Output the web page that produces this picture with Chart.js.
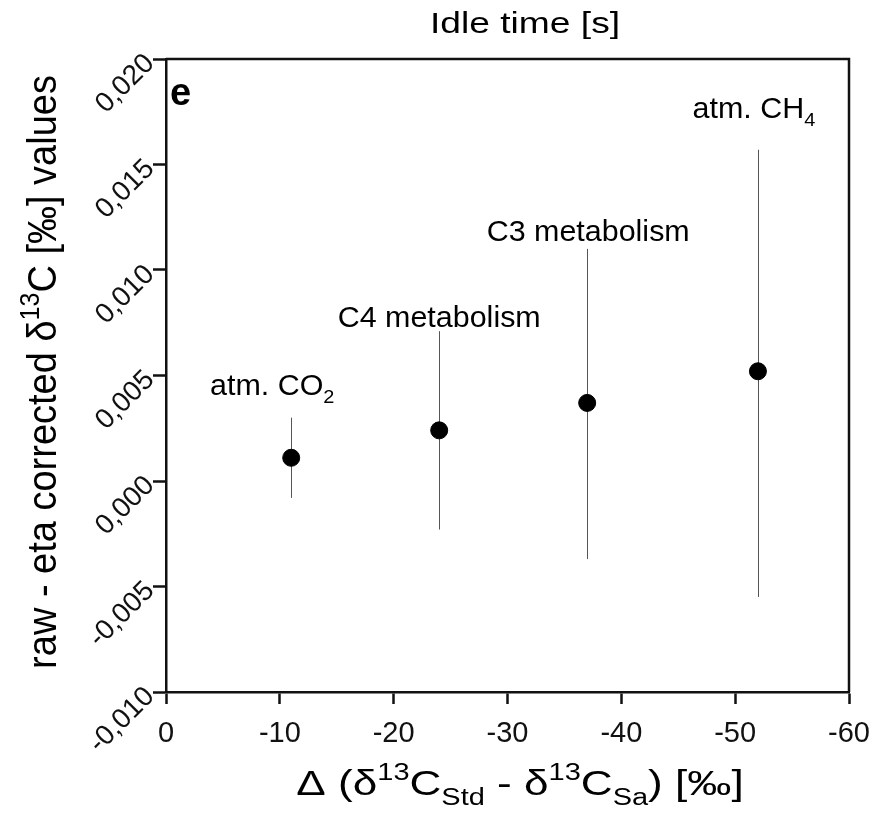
<!DOCTYPE html>
<html>
<head>
<meta charset="utf-8">
<script src="https://cdn.jsdelivr.net/npm/chart.js@4/dist/chart.umd.min.js"></script>
<style>
html,body{margin:0;padding:0;background:#fff;}
#wrap{width:873px;height:829px;position:relative;}
</style>
</head>
<body>
<div id="wrap"><canvas id="c" width="873" height="829"></canvas></div>
<script>
// ---- data ----
const categories = ['atm. CO2', 'C4 metabolism', 'C3 metabolism', 'atm. CH4'];
const labelMain = ['atm. CO', 'C4 metabolism', 'C3 metabolism', 'atm. CH'];
const labelSub = ['2', '', '', '4'];
const xValues = [-11, -24, -37, -52];
const yValues = [0.0011, 0.0024, 0.0037, 0.0052];
const yUpper = [0.0030, 0.0071, 0.0110, 0.0157];
const yLower = [-0.0008, -0.0023, -0.0037, -0.0055];
const xTicks = [0, -10, -20, -30, -40, -50, -60];
const yTicks = [-0.010, -0.005, 0.000, 0.005, 0.010, 0.015, 0.020];

const FONT = '"Liberation Sans", Arial, sans-serif';
const labelOffsets = [[-19, -23], [0, -4], [1, -8], [-4, -32]];

function drawRich(ctx, parts, x, y, align, sx) {
  sx = sx || 1;
  let total = 0;
  parts.forEach(p => { ctx.font = (p.bold ? 'bold ' : '') + p.size + 'px ' + FONT; p.w = ctx.measureText(p.t).width; total += p.w; });
  ctx.save();
  ctx.translate(x, y);
  ctx.scale(sx, 1);
  let cx = align === 'center' ? -total / 2 : (align === 'right' ? -total : 0);
  ctx.textAlign = 'left';
  ctx.textBaseline = 'alphabetic';
  parts.forEach(p => {
    ctx.font = (p.bold ? 'bold ' : '') + p.size + 'px ' + FONT;
    ctx.fillText(p.t, cx, (p.dy || 0));
    cx += p.w;
  });
  ctx.restore();
}

const errorBars = {
  id: 'errorBars',
  beforeDatasetsDraw(chart) {
    const {ctx, scales: {x, y}} = chart;
    ctx.save();
    ctx.strokeStyle = '#555';
    ctx.lineWidth = 1;
    xValues.forEach((xv, i) => {
      const px = Math.round(x.getPixelForValue(xv)) + 0.5;
      ctx.beginPath();
      ctx.moveTo(px, y.getPixelForValue(yUpper[i]));
      ctx.lineTo(px, y.getPixelForValue(yLower[i]));
      ctx.stroke();
    });
    ctx.restore();
  }
};

const decorations = {
  id: 'decorations',
  afterDraw(chart) {
    const {ctx, chartArea: a, scales: {x, y}} = chart;
    ctx.save();
    // top and right frame
    ctx.strokeStyle = '#111';
    ctx.lineWidth = 2.5;
    ctx.beginPath();
    ctx.moveTo(a.left, a.top);
    ctx.lineTo(a.right, a.top);
    ctx.lineTo(a.right, a.bottom);
    ctx.stroke();
    ctx.fillStyle = '#000';
    // point labels
    xValues.forEach((xv, i) => {
      const px = x.getPixelForValue(xv) + labelOffsets[i][0];
      const py = y.getPixelForValue(yUpper[i]) + labelOffsets[i][1];
      const parts = [{t: labelMain[i], size: 29}];
      if (labelSub[i]) parts.push({t: labelSub[i], size: 19, dy: 8});
      drawRich(ctx, parts, px, py, 'center', 1.05);
    });
    // panel letter
    drawRich(ctx, [{t: 'e', size: 38, bold: true}], a.left + 4, a.top + 46, 'left');
    // top title
    drawRich(ctx, [{t: 'Idle time [s]', size: 30}], 525, 33, 'center', 1.24);
    // x title
    drawRich(ctx, [
      {t: 'Δ (δ', size: 35}, {t: '13', size: 23, dy: -15}, {t: 'C', size: 35},
      {t: 'Std', size: 23, dy: 10}, {t: ' - δ', size: 35}, {t: '13', size: 23, dy: -15},
      {t: 'C', size: 35}, {t: 'Sa', size: 23, dy: 10}, {t: ') [‰]', size: 35}
    ], 520, 795, 'center', 1.26);
    // y title
    ctx.save();
    ctx.translate(56, 372);
    ctx.rotate(-Math.PI / 2);
    ctx.scale(1, 1.08);
    drawRich(ctx, [
      {t: 'raw - eta corrected δ', size: 38}, {t: '13', size: 25, dy: -16},
      {t: 'C [‰] values', size: 38}
    ], 0, 0, 'center');
    ctx.restore();
    ctx.restore();
  }
};

new Chart(document.getElementById('c'), {
  type: 'scatter',
  data: {
    datasets: [{
      label: 'values',
      data: xValues.map((xv, i) => ({x: xv, y: yValues[i]})),
      backgroundColor: '#000',
      borderColor: '#000',
      pointRadius: 8.5,
      pointHoverRadius: 8.5
    }]
  },
  options: {
    responsive: false,
    animation: false,
    events: [],
    layout: {padding: {top: 59, right: 24, left: 0, bottom: 0}},
    plugins: {legend: {display: false}, tooltip: {enabled: false}, title: {display: false}},
    scales: {
      x: {
        type: 'linear', reverse: true, min: -60, max: 0,
        afterBuildTicks: s => { s.ticks = xTicks.map(v => ({value: v})); },
        afterFit: s => { s.height = 137; s.paddingLeft = 0; s.paddingRight = 0; },
        ticks: {color: '#111', font: {family: FONT, size: 29}, padding: 13, maxRotation: 0,
          callback: v => String(v)},
        grid: {display: true, drawOnChartArea: false, drawTicks: true, tickLength: 12, tickColor: '#111', tickWidth: 2.5},
        border: {display: true, color: '#111', width: 2.5}
      },
      y: {
        type: 'linear', min: -0.010, max: 0.020,
        afterBuildTicks: s => { s.ticks = yTicks.map(v => ({value: v})); },
        afterFit: s => { s.width = 166; s.paddingTop = 0; s.paddingBottom = 0; },
        ticks: {color: '#111', font: {family: FONT, size: 28}, padding: 3, minRotation: 45, maxRotation: 45,
          callback: v => (Math.abs(v) < 1e-9 ? 0 : v).toFixed(3).replace('.', ',')},
        grid: {display: true, drawOnChartArea: false, drawTicks: true, tickLength: 13, tickColor: '#111', tickWidth: 2.5},
        border: {display: true, color: '#111', width: 2.5}
      }
    }
  },
  plugins: [errorBars, decorations]
});
</script>
</body>
</html>
